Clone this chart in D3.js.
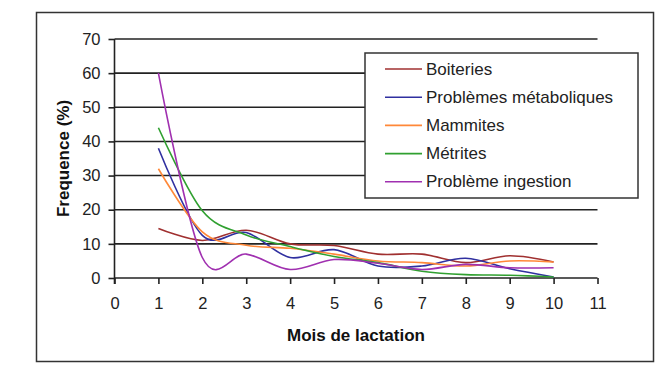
<!DOCTYPE html>
<html>
<head>
<meta charset="utf-8">
<script src="https://cdn.jsdelivr.net/npm/d3@7"></script>
<style>
  html, body { margin: 0; padding: 0; background: #fff; }
  svg { display: block; font-family: "Liberation Sans", Arial, sans-serif; }
</style>
</head>
<body>
<svg id="chart" width="670" height="383"></svg>
<script>
const months = [1, 2, 3, 4, 5, 6, 7, 8, 9, 10];
const xTicks = [0, 1, 2, 3, 4, 5, 6, 7, 8, 9, 10, 11];
const yTicks = [0, 10, 20, 30, 40, 50, 60, 70];
const seriesNames = ["Boiteries", "Problèmes métaboliques", "Mammites", "Métrites", "Problème ingestion"];
const boiteries   = [14.5, 11, 14, 10, 9.5, 7, 7, 4.5, 6.5, 4.7];
const metaboliques = [38, 12.5, 13.3, 6, 8.3, 3.5, 3.5, 5.8, 2.7, 0.3];
const mammites    = [32, 13.5, 9.6, 8.7, 7, 5, 4.5, 3.5, 5, 4.7];
const metrites    = [44, 19.7, 12.6, 9.2, 6.3, 4.5, 2, 1, 0.8, 0.3];
const ingestion   = [60, 6, 7, 2.5, 5.4, 4.3, 2.5, 4, 3, 3];
const seriesValues = [boiteries, metaboliques, mammites, metrites, ingestion];
const seriesColors = ["#a03030", "#3030a0", "#ff8838", "#30a030", "#a030b0"];

const svg = d3.select("#chart");

// outer frame
svg.append("rect").attr("x", 36.5).attr("y", 12.5).attr("width", 617).attr("height", 349)
  .attr("fill", "#fff").attr("stroke", "#333").attr("stroke-width", 1.5);

const x = d3.scaleLinear().domain([0, 11]).range([114.5, 597.5]);
const y = d3.scaleLinear().domain([0, 70]).range([278, 39]);

// gridlines
svg.append("g").selectAll("line").data(yTicks.filter(d => d > 0)).join("line")
  .attr("x1", x(0)).attr("x2", x(11))
  .attr("y1", d => y(d)).attr("y2", d => y(d))
  .attr("stroke", "#222").attr("stroke-width", 1.6);

// y axis
const yAxis = svg.append("g").attr("transform", `translate(${x(0)},0)`)
  .call(d3.axisLeft(y).tickValues(yTicks).tickSize(6).tickPadding(8));
yAxis.select(".domain").attr("d", `M0,${y(70)}V${y(0) + 6}`).attr("stroke", "#222").attr("stroke-width", 1.6);
yAxis.selectAll(".tick line").attr("stroke", "#222").attr("stroke-width", 1.6);
yAxis.selectAll(".tick text").attr("font-size", 16.5).attr("fill", "#222")
  .attr("font-family", "Liberation Sans, Arial, sans-serif");

// x axis
const xAxis = svg.append("g").attr("transform", `translate(0,${y(0)})`)
  .call(d3.axisBottom(x).tickValues(xTicks).tickSize(6).tickPadding(13));
xAxis.select(".domain").attr("d", `M${x(0)},0H${x(11)}`).attr("stroke", "#222").attr("stroke-width", 1.6);
xAxis.selectAll(".tick line").attr("stroke", "#222").attr("stroke-width", 1.6);
xAxis.selectAll(".tick text").attr("font-size", 16.5).attr("fill", "#222")
  .attr("font-family", "Liberation Sans, Arial, sans-serif");

// axis titles
svg.append("text").attr("x", (x(0) + x(11)) / 2).attr("y", 341)
  .attr("text-anchor", "middle").attr("font-size", 17).attr("font-weight", "bold").attr("fill", "#111")
  .text("Mois de lactation");
svg.append("text").attr("transform", `translate(68.5,${(y(0) + y(70)) / 2}) rotate(-90)`)
  .attr("text-anchor", "middle").attr("font-size", 17).attr("font-weight", "bold").attr("fill", "#111")
  .text("Frequence (%)");

// series lines
const line = d3.line()
  .x((d, i) => x(months[i]))
  .y(d => y(d))
  .curve(d3.curveCardinal.tension(0));

svg.append("g").selectAll("path").data(seriesValues).join("path")
  .attr("d", d => line(d))
  .attr("fill", "none")
  .attr("stroke", (d, i) => seriesColors[i])
  .attr("stroke-width", 1.6);

// legend
const lg = svg.append("g");
lg.append("rect").attr("x", 365).attr("y", 53).attr("width", 273).attr("height", 145)
  .attr("fill", "#fff").attr("stroke", "#333").attr("stroke-width", 1.5);
const items = lg.selectAll("g.item").data(seriesNames).join("g").attr("class", "item")
  .attr("transform", (d, i) => `translate(0,${69 + i * 28.2})`);
items.append("line").attr("x1", 385).attr("x2", 422).attr("y1", 0).attr("y2", 0)
  .attr("stroke", (d, i) => seriesColors[i]).attr("stroke-width", 1.6);
items.append("text").attr("x", 426).attr("y", 5.5).attr("font-size", 17).attr("fill", "#222")
  .text(d => d);
</script>
</body>
</html>
